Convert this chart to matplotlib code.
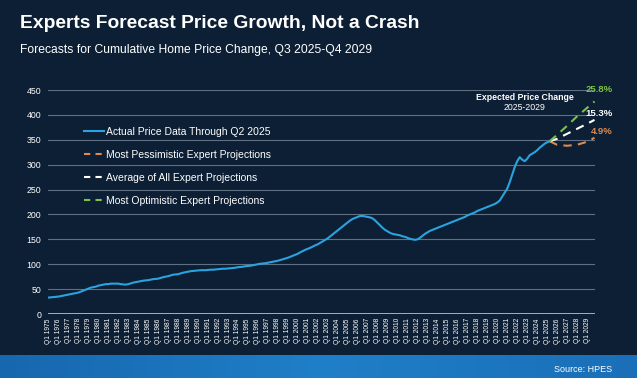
import numpy as np
import matplotlib
matplotlib.use("Agg")
import matplotlib.pyplot as plt
from matplotlib.lines import Line2D

plt.rcParams["font.family"] = ["Liberation Sans", "DejaVu Sans"]

# quarterly index values, Q1 1975 .. Q2 2025
actual_start = 1975
actual = [
    33, 33.5, 34, 34.5,   35, 36, 37, 38,   39, 40, 41, 42,   43, 45, 47, 49,
    51, 53, 54, 55,   57, 58, 59, 60,   60, 61, 61, 61,   61, 60, 59.5, 59,
    60, 61.5, 63, 64,   65, 66, 67, 67.5,   68, 69, 70, 70.5,   71, 72.5, 74, 75,
    76, 77.5, 79, 79.5,   80, 81.5, 83, 84,   85, 86, 86.5, 87,   87.5, 88, 88, 88,
    88.5, 89, 89, 89.5,   90, 90.5, 91, 91,   91.5, 92, 92.5, 93,   94, 94.5, 95, 96,
    96.5, 97, 98, 99,   100, 101, 101.5, 102,   103, 104, 105, 106,   107, 108.5, 110, 111.5,
    113, 115, 117, 119,   121, 124, 126.5, 129,   131, 133, 135.5, 138,   140, 143, 146, 149,
    152, 156, 160, 164,   168, 172, 176, 180,   184, 188, 191, 193,   195, 197, 197, 196,
    195, 194, 192, 188,   183, 178, 173, 169,   166, 163, 161, 160,   159, 158, 156, 155,
    153, 151, 150, 149,   150, 153, 157, 161,   164, 167, 169, 171,   173, 175, 177, 179,
    181, 183, 185, 187,   189, 191, 193, 195,   198, 200, 202, 204,   207, 209, 211, 213,
    215, 217, 219, 221,   224, 228, 236, 244,   252, 265, 280, 295,   307, 315, 310, 307,
    312, 319, 322, 325,   329, 334, 338, 342,   345, 347,
]

# projections Q2 2025 .. Q4 2029 (yearly reads)
proj_years = [2025.25, 2026.0, 2027.0, 2028.0, 2029.0, 2029.75]
pessimistic = [347, 340, 338, 340, 346, 354]
average = [347, 352, 362, 372, 382, 390]
optimistic = [347, 360, 378, 397, 414, 427]

tick_years = list(range(1975, 2030))
tick_labels = [f"Q1 {y}" for y in tick_years]

BG = "#0c1f35"
BLUE = "#2aa3de"
ORANGE = "#dd8a4e"
GREEN = "#7cc242"
GRID = "#5f7082"

fig = plt.figure(figsize=(6.37, 3.78), dpi=100, facecolor=BG)

# bottom blue band
band = fig.add_axes([0, 0, 1, 23 / 378])
band.imshow(np.linspace(0, 1, 256)[None, :], aspect="auto",
            cmap=matplotlib.colors.LinearSegmentedColormap.from_list(
                "b", ["#1767ae", "#1f7fc8", "#1a6fb8"]),
            extent=[0, 1, 0, 1])
band.axis("off")
fig.text(612 / 637, 9 / 378, "Source: HPES", color="white", fontsize=6.5,
         ha="right", va="center")

fig.text(20 / 637, 1 - 24 / 378, "Experts Forecast Price Growth, Not a Crash",
         color="white", fontsize=13.9, fontweight="bold", ha="left", va="center")
fig.text(20 / 637, 1 - 50 / 378, "Forecasts for Cumulative Home Price Change, Q3 2025-Q4 2029",
         color="white", fontsize=8.7, ha="left", va="center")

ax = fig.add_axes([48 / 637, 1 - 314 / 378, 547 / 637, 224 / 378])
ax.set_facecolor(BG)

xs = [actual_start + i / 4 for i in range(len(actual))]
ax.plot(xs, actual, color=BLUE, lw=1.5, zorder=4)
ax.plot(proj_years, pessimistic, color=ORANGE, lw=1.5, dashes=(4, 3), zorder=3)
ax.plot(proj_years, average, color="white", lw=1.5, dashes=(4, 3), zorder=3)
ax.plot(proj_years, optimistic, color=GREEN, lw=1.5, dashes=(4, 3), zorder=3)

ax.set_xlim(1974.95, 2029.8)
ax.set_ylim(0, 450)
ax.set_yticks(range(0, 451, 50))
for v in range(50, 451, 50):
    ax.axhline(v, color=GRID, lw=0.8, zorder=1)
ax.axhline(0, color="#9fb0c2", lw=1.4, zorder=2)
for s in ax.spines.values():
    s.set_visible(False)
ax.set_xticks(tick_years, tick_labels, rotation=90)
ax.tick_params(axis="x", length=0, labelsize=4.8, colors="white", pad=3)
ax.tick_params(axis="y", length=0, labelsize=6.3, colors="white", pad=5)

handles = [
    Line2D([], [], color=BLUE, lw=1.5),
    Line2D([], [], color=ORANGE, lw=1.5, dashes=(3, 2.5)),
    Line2D([], [], color="white", lw=1.5, dashes=(3, 2.5)),
    Line2D([], [], color=GREEN, lw=1.5, dashes=(3, 2.5)),
]
labels = ["Actual Price Data Through Q2 2025", "Most Pessimistic Expert Projections",
          "Average of All Expert Projections", "Most Optimistic Expert Projections"]
ax.legend(handles, labels, loc="upper left", bbox_to_anchor=(0.066, 0.837),
          frameon=False, fontsize=7.5, labelcolor="white", handlelength=1.9,
          handletextpad=0.2, labelspacing=1.25, borderaxespad=0, borderpad=0)

fig.text(525 / 637, 1 - 98 / 378, "Expected Price Change", color="white", fontsize=6.3,
         fontweight="bold", ha="center", va="center")
fig.text(525 / 637, 1 - 108 / 378, "2025-2029", color="white", fontsize=6.3,
         ha="center", va="center")
fig.text(613 / 637, 1 - 90 / 378, "25.8%", color=GREEN, fontsize=6.8,
         fontweight="bold", ha="right", va="center")
fig.text(613 / 637, 1 - 114 / 378, "15.3%", color="white", fontsize=6.8,
         fontweight="bold", ha="right", va="center")
fig.text(613 / 637, 1 - 132 / 378, "4.9%", color=ORANGE, fontsize=6.8,
         fontweight="bold", ha="right", va="center")

fig.savefig("out.png", dpi=100, facecolor=BG)
